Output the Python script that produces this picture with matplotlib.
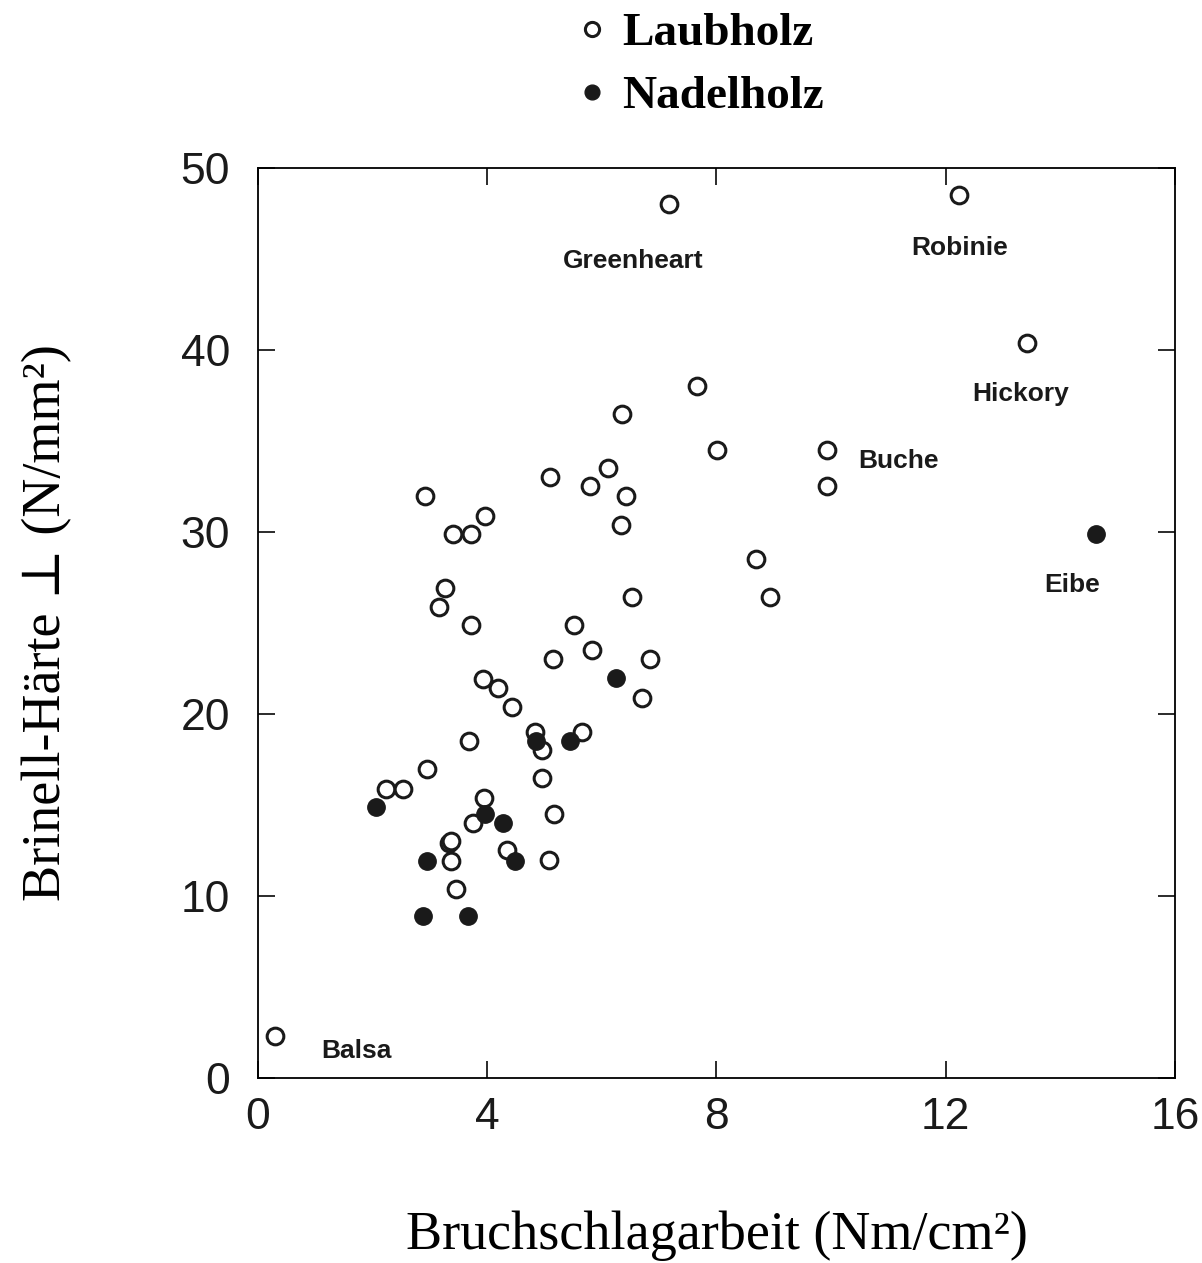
import matplotlib.pyplot as plt

# Laubholz (open circles)
laub_x = [0.30, 7.17, 12.24, 13.41, 9.93, 9.93, 7.66, 8.01, 6.35, 5.10, 6.10, 5.80,
          6.42, 6.33, 2.92, 3.97, 3.41, 3.71, 3.27, 3.16, 3.72, 5.52, 6.52, 8.69,
          8.93, 5.82, 5.14, 6.84, 6.70, 3.93, 4.18, 4.44, 3.69, 4.84, 4.95, 5.65,
          2.95, 2.24, 2.53, 3.95, 4.95, 3.76, 5.16, 3.33, 3.36, 3.37, 4.34, 5.07, 3.46]
laub_y = [2.3, 48.0, 48.5, 40.4, 34.5, 32.5, 38.0, 34.5, 36.5, 33.0, 33.5, 32.5,
          32.0, 30.4, 32.0, 30.9, 29.9, 29.9, 26.9, 25.9, 24.9, 24.9, 26.4, 28.5,
          26.4, 23.5, 23.0, 23.0, 20.9, 21.9, 21.4, 20.4, 18.5, 19.0, 18.0, 19.0,
          17.0, 15.9, 15.9, 15.4, 16.5, 14.0, 14.5, 12.9, 13.0, 11.9, 12.5, 12.0, 10.4]

# Nadelholz (filled circles)
nadel_x = [2.06, 2.95, 2.88, 3.67, 3.97, 4.27, 4.48, 4.86, 5.45, 6.24, 14.63]
nadel_y = [14.9, 11.9, 8.9, 8.9, 14.5, 14.0, 11.9, 18.5, 18.5, 22.0, 29.9]

# labelled species
names = ["Greenheart", "Robinie", "Hickory", "Buche", "Eibe", "Balsa"]
name_x = [6.54, 12.24, 13.3, 11.17, 14.2, 1.71]
name_y = [44.9, 45.6, 37.6, 33.9, 27.1, 1.5]

x_ticks = [0, 4, 8, 12, 16]
y_ticks = [0, 10, 20, 30, 40, 50]

fig = plt.figure(figsize=(12.02, 12.63), dpi=100)
ax = fig.add_axes([0.2146, 0.1465, 0.7629, 0.7205])

l1, = ax.plot(laub_x, laub_y, "o", ls="none", ms=12, mfc="white", mec="#1a1a1a", mew=2.2)
l2, = ax.plot(nadel_x, nadel_y, "o", ls="none", ms=12.5, mfc="#1a1a1a", mec="#1a1a1a", mew=1)

for n, x, y in zip(names, name_x, name_y):
    ax.text(x, y, n, ha="center", va="center", fontsize=19, fontweight="bold",
            family="Liberation Sans", color="#1a1a1a")

ax.set_xlim(0, 16)
ax.set_ylim(0, 50)
ax.set_xticks(x_ticks)
ax.set_yticks(y_ticks)
ax.tick_params(direction="in", length=12, width=1.3, top=True, right=True,
               labelsize=32, colors="#1a1a1a")
ax.tick_params(axis="y", pad=20)
ax.tick_params(axis="x", pad=14)
for lab in ax.get_xticklabels() + ax.get_yticklabels():
    lab.set_family("Liberation Sans")
for s in ax.spines.values():
    s.set_linewidth(1.3)

ax.set_xlabel("Bruchschlagarbeit (Nm/cm²)", family="Liberation Serif", fontsize=39, labelpad=52)
ax.set_ylabel("Brinell-Härte ⊥ (N/mm²)", family=["Liberation Serif", "DejaVu Serif"],
              fontsize=39, labelpad=78)

leg = fig.legend([l1, l2], ["Laubholz", "Nadelholz"], loc="upper left",
                 bbox_to_anchor=(0.445, 1.024), frameon=False, handlelength=0.6,
                 handletextpad=0.35, labelspacing=0.42, markerscale=0.85,
                 prop={"family": "Liberation Serif", "weight": "bold", "size": 34})

fig.savefig("out.png", dpi=100)
